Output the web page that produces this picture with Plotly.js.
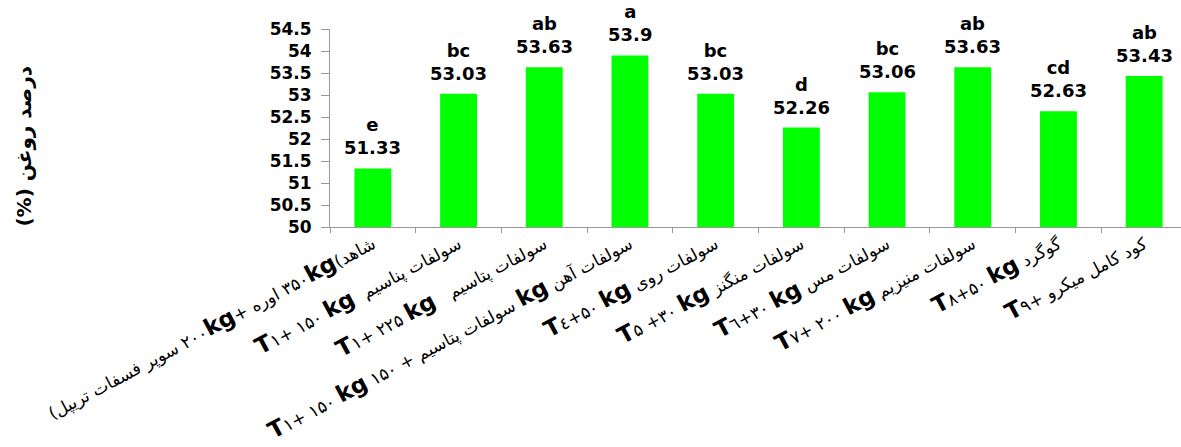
<!DOCTYPE html>
<html><head><meta charset="utf-8">
<script src="https://cdn.plot.ly/plotly-3.0.1.min.js"></script>
<style>html,body{margin:0;padding:0;overflow:hidden;background:#fff}</style>
</head><body><div id="chart" style="width:1200px;height:447px"></div>
<script>
const categories = [
  "(\u200Eسوپر فسفات تریپل\u200E ۲۰۰kg+ \u200Eاوره\u200E ۳۵۰kg(\u200Eشاهد",
  "T۱+ ۱۵۰ kg  \u200Eسولفات پناسیم",
  "T۱+ ۲۲۵ kg   \u200Eسولفات پتاسیم",
  "T۱+ ۱۵۰ kg ۱۵۰ + \u200Eسولفات پتاسیم\u200E kg \u200Eسولفات آهن",
  "T٤+۵۰ kg \u200Eسولفات روی",
  "T۵ +۳۰ kg \u200Eسولفات منگنز",
  "T٦+۳۰ kg \u200Eسولفات مس",
  "T۷+ ۲۰۰ kg \u200Eسولفات منیزیم",
  "T۸+۵۰ kg \u200Eگوگرد",
  "T۹+ \u200Eکود کامل میکرو"
];
const values = [51.33, 53.03, 53.63, 53.9, 53.03, 52.26, 53.06, 53.63, 52.63, 53.43];
const valueLabels = ['51.33','53.03','53.63','53.9','53.03','52.26','53.06','53.63','52.63','53.43'];
const letters = ['e','bc','ab','a','bc','d','bc','ab','cd','ab'];
const yTickVals = [50, 50.5, 51, 51.5, 52, 52.5, 53, 53.5, 54, 54.5];
const yTickText = ['50','50.5','51','51.5','52','52.5','53','53.5','54','54.5'];
const yTitle = '(%) درصد روغن';

function styleLabel(s){
  return s.replace(/kg/g,'<b><span style="font-size:23px">kg</span></b>')
          .replace(/T/g,'<b><span style="font-size:23px">T</span></b>');
}

const trace = {
  type: 'bar',
  x: categories,
  y: values,
  width: 0.43,
  marker: {color: '#00FF00'},
  hoverinfo: 'none'
};

const annotations = categories.map((c, i) => ({
  x: c, y: values[i], xref: 'x', yref: 'y',
  text: letters[i] + '<br>' + valueLabels[i],
  showarrow: false, yanchor: 'bottom', yshift: 8,
  font: {family: 'DejaVu Sans', size: 18, color: '#000', weight: 'bold'}
}));
annotations.push({
  xref: 'paper', yref: 'paper', x: -0.357, y: 0.4066,
  text: yTitle, textangle: -90, showarrow: false,
  xanchor: 'center', yanchor: 'middle',
  font: {family: 'DejaVu Sans', size: 20, color: '#000', weight: 'bold'}
});

const layout = {
  width: 1200, height: 447,
  margin: {l: 330, r: 13, t: 29, b: 220, pad: 0},
  paper_bgcolor: '#fff', plot_bgcolor: '#fff',
  showlegend: false,
  xaxis: {
    type: 'category', tickson: 'boundaries', ticks: 'outside', ticklen: 5,
    tickcolor: '#999', showline: true, linecolor: '#999', linewidth: 1,
    tickangle: -28, tickmode: 'array', tickvals: categories,
    ticktext: categories.map(styleLabel),
    tickfont: {family: 'DejaVu Sans', size: 17, color: '#000'},
    showgrid: false, range: [-0.5, 9.5], fixedrange: true
  },
  yaxis: {
    range: [50, 54.5], tickmode: 'array', tickvals: yTickVals, ticktext: yTickText,
    ticks: 'outside', ticklen: 8, tickcolor: '#999', showline: true, linecolor: '#999',
    linewidth: 1, showgrid: false, zeroline: false, ticklabelstandoff: 6,
    tickfont: {family: 'DejaVu Sans', size: 17, color: '#000', weight: 'bold'},
    fixedrange: true
  },
  annotations: annotations
};

Plotly.newPlot('chart', [trace], layout, {displayModeBar: false, staticPlot: true});
</script></body></html>
